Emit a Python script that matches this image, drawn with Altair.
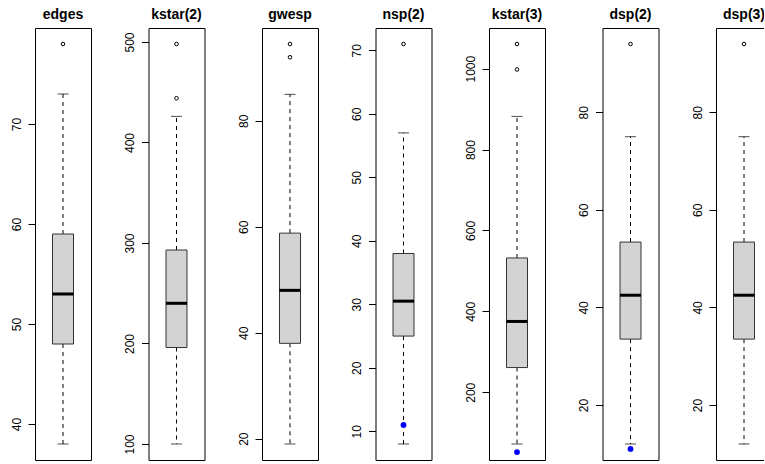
import altair as alt
import pandas as pd

# ---- data ----
names = ["edges", "kstar(2)", "gwesp", "nsp(2)", "kstar(3)", "dsp(2)", "dsp(3)"]
whisker_lo = [38, 100, 19, 8, 72, 12, 12]
q1 = [48, 196, 38, 25, 261, 33.5, 33.5]
median = [53, 240, 48, 30.5, 375, 42.5, 42.5]
q3 = [59, 293, 58.8, 38, 532, 53.4, 53.4]
whisker_hi = [73, 426, 85, 57, 882, 75, 75]
outliers = [[78], [498, 444], [94.5, 92], [71], [1061, 998], [94], [94]]
observed = [None, None, None, 11, 52, 11, None]
tick_values = [
    [40, 50, 60, 70],
    [100, 200, 300, 400, 500],
    [20, 40, 60, 80],
    [10, 20, 30, 40, 50, 60, 70],
    [200, 400, 600, 800, 1000],
    [20, 40, 60, 80],
    [20, 40, 60, 80],
]

FONT = "Liberation Sans"


def panel(i):
    nm = names[i]
    stats = pd.DataFrame({
        "name": [nm], "lo": [whisker_lo[i]], "q1": [q1[i]], "med": [median[i]],
        "q3": [q3[i]], "hi": [whisker_hi[i]],
    })
    pts = pd.DataFrame({"name": [nm] * len(outliers[i]), "v": outliers[i]})
    allv = [whisker_lo[i], whisker_hi[i]] + outliers[i]
    lo_all, hi_all = min(allv), max(allv)
    pad = 0.04 * (hi_all - lo_all)
    sc = alt.Scale(domain=[lo_all - pad, hi_all + pad], nice=False, zero=False)
    ax = alt.Axis(values=tick_values[i], title=None, format="d")

    x = alt.X("name:N", axis=None)
    base = alt.Chart(stats).encode(x=x)

    low = base.mark_rule(color="black", strokeDash=[4, 4], strokeWidth=1).encode(
        y=alt.Y("q1:Q", scale=sc, axis=ax), y2="lo:Q")
    up = base.mark_rule(color="black", strokeDash=[4, 4], strokeWidth=1).encode(
        y=alt.Y("q3:Q", scale=sc), y2="hi:Q")
    cap_lo = base.mark_tick(orient="horizontal", color="black", size=11, thickness=1).encode(
        y=alt.Y("lo:Q", scale=sc))
    cap_hi = base.mark_tick(orient="horizontal", color="black", size=11, thickness=1).encode(
        y=alt.Y("hi:Q", scale=sc))
    box = base.mark_bar(size=21, fill="#D3D3D3", stroke="#333333", strokeWidth=1).encode(
        y=alt.Y("q1:Q", scale=sc), y2="q3:Q")
    med = base.mark_tick(orient="horizontal", color="black", size=21, thickness=3, opacity=1).encode(
        y=alt.Y("med:Q", scale=sc))
    outl = alt.Chart(pts).mark_point(shape="circle", filled=False, color="black",
                                     size=13, strokeWidth=1, opacity=1).encode(
        x=x, y=alt.Y("v:Q", scale=sc))
    layers = [low, up, cap_lo, cap_hi, box, med, outl]
    if observed[i] is not None:
        obs = pd.DataFrame({"name": [nm], "v": [observed[i]]})
        layers.append(alt.Chart(obs).mark_point(shape="circle", filled=True, color="#0000FF",
                                                size=34, opacity=1).encode(
            x=x, y=alt.Y("v:Q", scale=sc)))
    return alt.layer(*layers).properties(
        width=56, height=432,
        title=alt.TitleParams(nm, fontSize=14, fontWeight="bold", font=FONT, color="black",
                              offset=-5, baseline="alphabetic", anchor="middle", frame="group"),
    )


chart = alt.hconcat(*[panel(i) for i in range(len(names))], spacing=57.5, bounds="flush").properties(
    padding={"left": 9, "top": 7, "right": -9, "bottom": 0},
    background="white",
).configure_view(
    stroke="black", strokeWidth=1, fill="white"
).configure_axis(
    labelFont=FONT, labelFontSize=12, labelColor="black", labelAngle=270,
    labelAlign="center", labelBaseline="alphabetic", labelPadding=8,
    tickColor="black", tickSize=7, tickWidth=1, domain=False, grid=False,
    labelOverlap=False, labelFlush=False,
)

chart.save("out.html", embed_options={"renderer": "svg", "actions": False})
